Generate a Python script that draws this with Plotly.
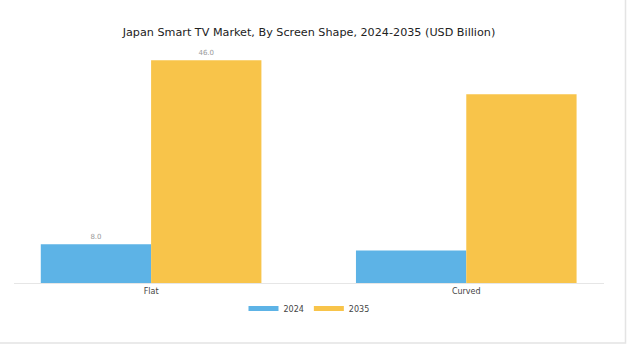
import plotly.graph_objects as go

# Market size by screen shape (USD Billion)
shapes = ["Flat", "Curved"]
years = ["2024", "2035"]
values_2024 = [8.0, 6.7]
values_2035 = [46.0, 39.0]
labels_2024 = ["8.0", ""]
labels_2035 = ["46.0", ""]
colors = {"2024": "#5DB3E6", "2035": "#F8C44A"}

W, H = 627, 345
fig = go.Figure()

for year, vals, labels in [("2024", values_2024, labels_2024),
                           ("2035", values_2035, labels_2035)]:
    fig.add_trace(go.Bar(
        x=shapes, y=vals, name=year,
        marker=dict(color=colors[year], line=dict(width=0)),
        text=labels, textposition="outside",
        textfont=dict(size=7, color="#9a9a9a"),
        cliponaxis=False, showlegend=False,
    ))
    # legend entry drawn as a short thick stroke
    fig.add_trace(go.Scatter(
        x=[None], y=[None], mode="lines", name=year,
        line=dict(color=colors[year], width=5),
    ))

# light card border along the bottom and right edges
fig.add_shape(type="rect", xref="paper", yref="paper",
              x0=-0.1, x1=(625.5 - 14) / 590, y0=(283 - 343) / 242, y1=1.3,
              line=dict(color="#e4e4e4", width=1.5), layer="below")

fig.update_layout(
    width=W, height=H,
    margin=dict(l=14, r=23, t=41, b=62),
    paper_bgcolor="white", plot_bgcolor="white",
    font=dict(family="DejaVu Sans", color="#333333"),
    title=dict(text="Japan Smart TV Market, By Screen Shape, 2024-2035 (USD Billion)",
               xref="paper", x=0.5, xanchor="center", y=1 - 32 / H, yanchor="middle",
               font=dict(size=11.2, color="#222222")),
    barmode="group", bargap=0.3, bargroupgap=0,
    xaxis=dict(range=[-0.435, 1.437], showgrid=False, showline=True,
               linecolor="#e6e6e6", linewidth=1, ticks="",
               tickfont=dict(size=8, color="#444444")),
    yaxis=dict(range=[0, 50], visible=False, showgrid=False, zeroline=False),
    legend=dict(orientation="h", x=0.5, xanchor="center", y=-0.045, yanchor="top",
                font=dict(size=8, color="#444444"), itemwidth=30),
)

fig.write_html("out.html")
